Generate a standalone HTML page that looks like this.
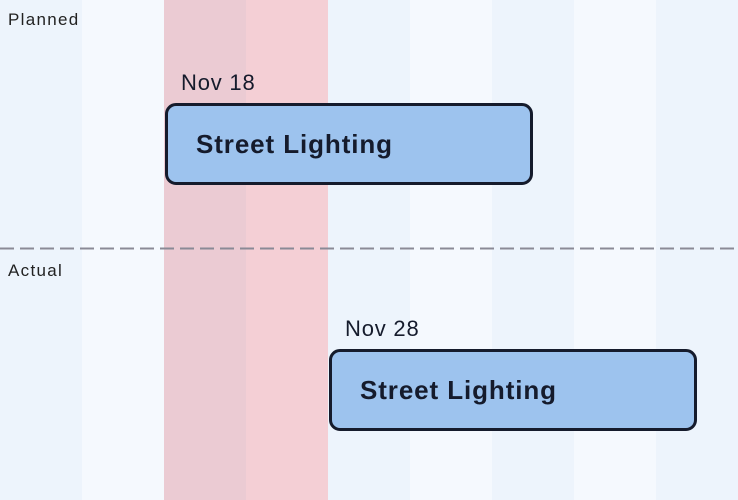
<html><head><style>
body{margin:0;width:738px;height:500px;position:relative;overflow:hidden;font-family:"Liberation Sans",sans-serif;background:#edf4fc}
.c{position:absolute;top:0;height:500px;width:82px}
.box{position:absolute;width:362px;height:76px;border:3px solid #151b2c;border-radius:11px;background:#9dc3ee;box-sizing:content-box}
.box span{position:absolute;left:28px;top:23px;font-size:26px;letter-spacing:0.9px;font-weight:bold;color:#151b2c}
.d{position:absolute;font-size:22px;letter-spacing:0.8px;color:#151b2c}
.l{position:absolute;left:8px;font-size:17px;letter-spacing:1.3px;color:#222}
</style></head><body>
<div class="c" style="left:82px;background:#f5f9fe"></div>
<div class="c" style="left:164px;background:#ebcbd3"></div>
<div class="c" style="left:246px;background:#f4cfd5"></div>
<div class="c" style="left:410px;background:#f5f9fe"></div>
<div class="c" style="left:574px;background:#f5f9fe"></div>
<svg style="position:absolute;left:0;top:0" width="738" height="500"><line x1="0" y1="248.5" x2="738" y2="248.5" stroke="#8a8a96" stroke-width="2" stroke-dasharray="14,6"/></svg>
<div class="l" style="top:10px">Planned</div>
<div class="l" style="top:261px">Actual</div>
<div class="d" style="left:181px;top:70px">Nov 18</div>
<div class="box" style="left:165px;top:103px"><span>Street Lighting</span></div>
<div class="d" style="left:345px;top:316px">Nov 28</div>
<div class="box" style="left:329px;top:349px"><span>Street Lighting</span></div>
</body></html>
